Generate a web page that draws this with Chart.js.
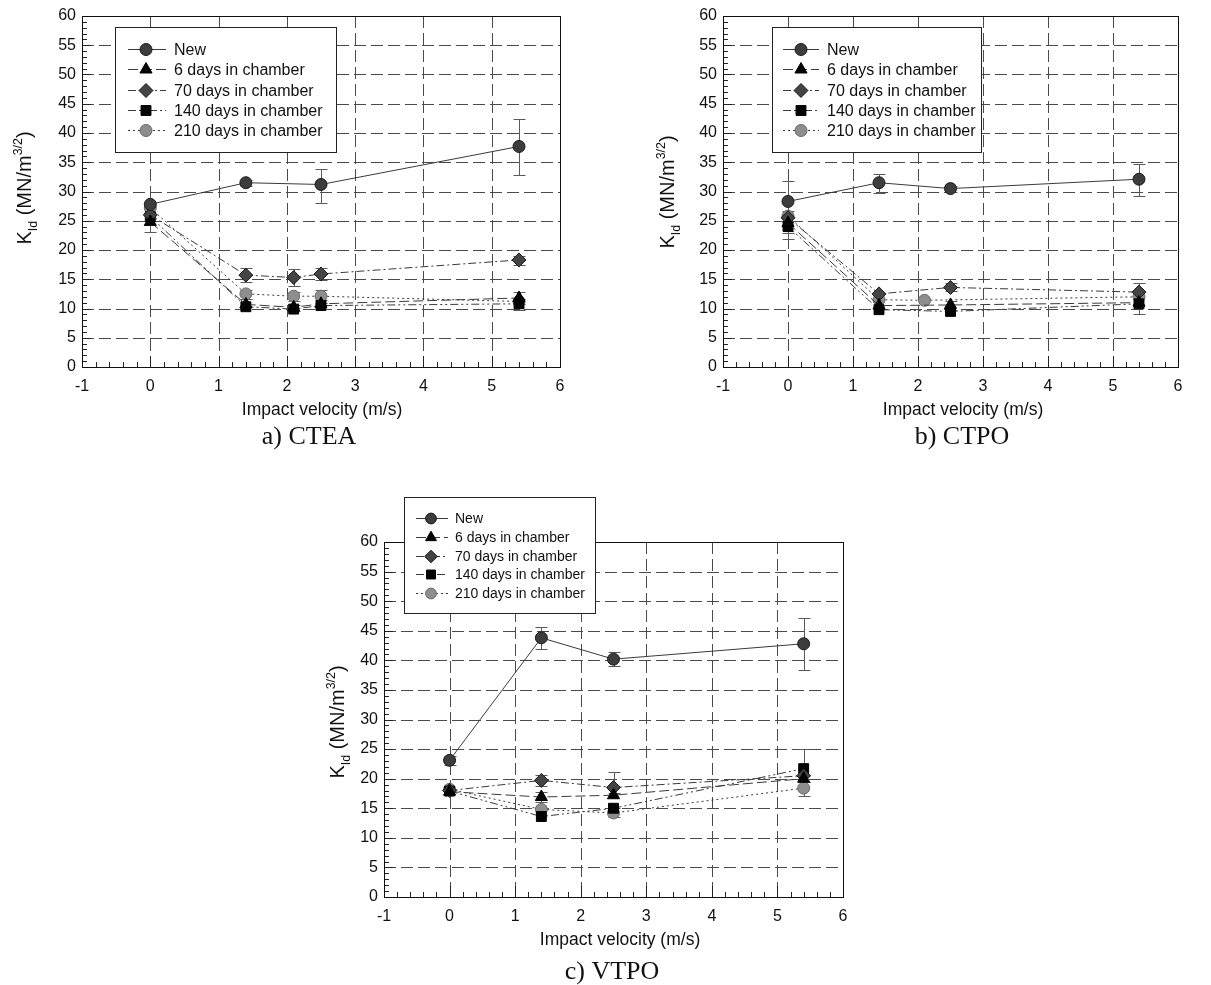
<!DOCTYPE html>
<html><head><meta charset="utf-8">
<script src="https://cdn.jsdelivr.net/npm/chart.js@4.4.0/dist/chart.umd.min.js"></script>
<style>
html,body{margin:0;padding:0;background:#fff}
body{width:1211px;height:985px;overflow:hidden;position:relative}
canvas{position:absolute}
</style></head><body>
<canvas id="ca" width="605" height="460" style="left:0;top:0"></canvas>
<canvas id="cb" width="571" height="460" style="left:640px;top:0"></canvas>
<canvas id="cc" width="600" height="505" style="left:300px;top:480px"></canvas>
<script>
// ---------- data ----------
const seriesLabels = ['New', '6 days in chamber', '70 days in chamber', '140 days in chamber', '210 days in chamber'];
const captions = ['a) CTEA', 'b) CTPO', 'c) VTPO'];
const xTitle = 'Impact velocity (m/s)';
const xTicks = [-1, 0, 1, 2, 3, 4, 5, 6];
const yTicks = [0, 5, 10, 15, 20, 25, 30, 35, 40, 45, 50, 55, 60];

// a) CTEA
const cteaX = [0, 1.4, 2.1, 2.5, 5.4];
const cteaNew = [27.8, 31.5, null, 31.2, 37.7];
const ctea6 = [24.8, 10.7, 10.2, 10.8, 11.8];
const ctea70 = [26.0, 15.7, 15.3, 15.9, 18.3];
const ctea140 = [25.7, 10.3, 9.9, 10.5, 10.8];
const ctea210 = [27.2, 12.5, 12.1, 12.1, 11.2];
const cteaErrNew = [null, [31.0, 32.0], null, [28.1, 33.9], [32.9, 42.4]];
const cteaErr6 = [[23.1, 26.2], null, null, [10.0, 11.4], [10.8, 12.9]];
const cteaErr70 = [null, [14.5, 16.9], [13.8, 16.8], [14.9, 16.9], [17.4, 19.0]];
const cteaErr140 = [null, null, [9.5, 10.6], null, [9.7, 11.6]];
const cteaErr210 = [null, [11.6, 13.2], [11.2, 12.8], [11.0, 13.1], null];

// b) CTPO
const ctpoX = [0, 1.4, 2.1, 2.5, 5.4];
const ctpoNew = [28.3, 31.5, null, 30.5, 32.1];
const ctpo6 = [24.6, 10.5, null, 10.6, 11.0];
const ctpo70 = [25.5, 12.5, null, 13.6, 12.8];
const ctpo140 = [24.0, 9.8, null, 9.5, 10.8];
const ctpo210 = [25.8, 11.5, 11.4, null, 12.0];
const ctpoErrNew = [[25.0, 31.8], [29.8, 33.0], null, [30.0, 31.0], [29.3, 34.7]];
const ctpoErr6 = [null, null, null, [9.8, 11.2], [9.1, 14.3]];
const ctpoErr70 = [[22.9, 26.6], null, null, [13.0, 14.3], null];
const ctpoErr140 = [[21.8, 25.0], null, null, null, null];
const ctpoErr210 = [null, null, null, null, null];

// c) VTPO
const vtpoX = [0, 1.4, 2.5, 5.4];
const vtpoNew = [23.1, 43.8, 40.2, 42.8];
const vtpo6 = [17.8, 16.9, 17.2, 20.0];
const vtpo70 = [18.0, 19.7, 18.5, 20.5];
const vtpo140 = [17.9, 13.6, 15.0, 21.7];
const vtpo210 = [18.2, 14.8, 14.2, 18.4];
const vtpoErrNew = [[22.3, 23.8], [41.9, 45.7], [39.1, 41.4], [38.4, 47.2]];
const vtpoErr6 = [null, [16.0, 17.7], null, null];
const vtpoErr70 = [null, [18.8, 20.7], [17.5, 21.1], null];
const vtpoErr140 = [null, null, null, [19.5, 25.0]];
const vtpoErr210 = [null, null, [13.6, 15.0], [17.0, 19.5]];

// ---------- styling ----------
const SANS = '"Liberation Sans", Arial, Helvetica, sans-serif';
const SERIF = '"Liberation Serif", "Times New Roman", serif';
Chart.defaults.font.family = SANS;
const styles = [
  { ps: 'circle',   r: 6, bg: '#3d3d3d', bc: '#1a1a1a', dash: [] },
  { ps: 'triangle', r: 7, bg: '#050505', bc: '#000',    dash: [10, 4] },
  { ps: 'rectRot',  r: 7, bg: '#444444', bc: '#1a1a1a', dash: [8, 3, 2, 3] },
  { ps: 'rect',     r: 7, bg: '#050505', bc: '#000',    dash: [8, 3, 2, 3, 2, 3] },
  { ps: 'circle',   r: 6, bg: '#8e8e8e', bc: '#6a6a6a', dash: [2, 3] }
];

function hline(ctx, x0, x1, y) { ctx.beginPath(); ctx.moveTo(x0, y); ctx.lineTo(x1, y); ctx.stroke(); }
function vline(ctx, x, y0, y1) { ctx.beginPath(); ctx.moveTo(x, y0); ctx.lineTo(x, y1); ctx.stroke(); }

function drawYTitle(ctx, cx, cy, fs) {
  const parts = [['K', fs, 0], ['Id', fs * 0.62, fs * 0.28], [' (MN/m', fs, 0], ['3/2', fs * 0.62, -fs * 0.45], [')', fs, 0]];
  ctx.save();
  ctx.translate(cx, cy); ctx.rotate(-Math.PI / 2);
  ctx.fillStyle = '#111'; ctx.textBaseline = 'alphabetic'; ctx.textAlign = 'left';
  let total = 0;
  parts.forEach(p => { ctx.font = p[1] + 'px ' + SANS; total += ctx.measureText(p[0]).width; });
  let x = -total / 2;
  parts.forEach(p => { ctx.font = p[1] + 'px ' + SANS; ctx.fillText(p[0], x, fs * 0.36 + p[2]); x += ctx.measureText(p[0]).width; });
  ctx.restore();
}

const deco = {
  id: 'deco',
  beforeDatasetsDraw(chart) {
    const g = chart.options.plugins.deco;
    const { ctx, chartArea: a, scales: { x, y } } = chart;
    ctx.save();
    // dashed grid
    ctx.strokeStyle = '#4a4a4a'; ctx.lineWidth = 1; ctx.setLineDash([12, 5]);
    yTicks.slice(1, -1).forEach(v => hline(ctx, a.left, a.right, Math.round(y.getPixelForValue(v)) + 0.5));
    xTicks.slice(1, -1).forEach(v => vline(ctx, Math.round(x.getPixelForValue(v)) + 0.5, a.top, a.bottom));
    ctx.setLineDash([]);
    // minor ticks
    ctx.strokeStyle = '#222';
    for (let v = 1; v < 60; v++) {
      const py = Math.round(y.getPixelForValue(v)) + 0.5;
      hline(ctx, a.left, a.left + (v % 5 === 0 ? 9 : 5), py);
    }
    for (let k = -4; k < 30; k++) {
      const v = k / 5; const px = Math.round(x.getPixelForValue(v)) + 0.5;
      vline(ctx, px, a.bottom, a.bottom - (k % 5 === 0 ? 11 : 5));
    }
    // error bars
    ctx.strokeStyle = '#5a5a5a';
    g.errors.forEach(errs => errs.forEach((e, i) => {
      if (!e) return;
      const px = Math.round(x.getPixelForValue(g.xs[i])) + 0.5;
      const p0 = Math.round(y.getPixelForValue(e[0])) + 0.5, p1 = Math.round(y.getPixelForValue(e[1])) + 0.5;
      vline(ctx, px, p0, p1); hline(ctx, px - 6, px + 6, p0); hline(ctx, px - 6, px + 6, p1);
    }));
    ctx.restore();
  },
  afterDatasetsDraw(chart) {
    const { ctx, chartArea: a } = chart;
    ctx.save(); ctx.strokeStyle = '#111'; ctx.lineWidth = 1;
    ctx.strokeRect(Math.round(a.left) + 0.5, Math.round(a.top) + 0.5, Math.round(a.right - a.left), Math.round(a.bottom - a.top));
    ctx.restore();
  },
  afterDraw(chart) {
    const g = chart.options.plugins.deco;
    const { ctx } = chart;
    const L = g.legend;
    ctx.save();
    ctx.fillStyle = '#fff'; ctx.fillRect(L.x, L.y, L.w, L.h);
    ctx.strokeStyle = '#222'; ctx.lineWidth = 1; ctx.strokeRect(L.x + 0.5, L.y + 0.5, L.w, L.h);
    chart.data.datasets.forEach((ds, i) => {
      const ry = Math.round(L.row0 + i * L.dy) + 0.5;
      ctx.strokeStyle = ds.borderColor; ctx.lineWidth = 1; ctx.setLineDash(ds.borderDash);
      hline(ctx, L.lx0, L.lx1, ry);
      ctx.setLineDash([]);
      ctx.fillStyle = ds.pointBackgroundColor; ctx.strokeStyle = ds.pointBorderColor;
      Chart.helpers.drawPoint(ctx, { pointStyle: ds.pointStyle, radius: ds.pointRadius * L.ms, rotation: 0, borderWidth: 1 }, L.mx, ry);
      ctx.fillStyle = '#111'; ctx.font = L.fs + 'px ' + SANS; ctx.textBaseline = 'middle'; ctx.textAlign = 'left';
      ctx.fillText(ds.label, L.tx, ry + 1);
    });
    // titles
    ctx.fillStyle = '#111'; ctx.textAlign = 'center'; ctx.textBaseline = 'middle';
    ctx.font = '17.5px ' + SANS; ctx.fillText(xTitle, g.xt[0], g.xt[1]);
    ctx.font = '26px ' + SERIF; ctx.fillText(g.caption, g.cap[0], g.cap[1]);
    drawYTitle(ctx, g.yt[0], g.yt[1], 20);
    ctx.restore();
  }
};

function makeChart(id, xs, series, errors, caption, geo) {
  const datasets = series.map((vals, i) => {
    const s = styles[i];
    return {
      label: seriesLabels[i],
      data: xs.map((x, j) => ({ x, y: vals[j] })).filter(p => p.y !== null),
      showLine: true, borderColor: '#3a3a3a', borderWidth: 1, borderDash: s.dash,
      pointStyle: s.ps, pointRadius: s.r, pointHoverRadius: s.r,
      pointBackgroundColor: s.bg, pointBorderColor: s.bc, pointBorderWidth: 1
    };
  });
  new Chart(document.getElementById(id), {
    type: 'scatter',
    data: { datasets },
    plugins: [deco],
    options: {
      responsive: false, animation: false, events: [],
      layout: { padding: { left: 0, top: geo.padTop, right: geo.padRight, bottom: 0 } },
      plugins: {
        legend: { display: false }, tooltip: { enabled: false },
        deco: { xs, errors, caption, legend: geo.legend, xt: geo.xt, yt: geo.yt, cap: geo.cap }
      },
      scales: {
        x: {
          type: 'linear', min: xTicks[0], max: xTicks[xTicks.length - 1],
          afterBuildTicks: sc => { sc.ticks = xTicks.map(v => ({ value: v })); },
          afterFit: sc => { sc.height = geo.xH; },
          grid: { display: false, drawTicks: false }, border: { display: false },
          ticks: { color: '#111', font: { size: 16 }, padding: 10, maxRotation: 0, autoSkip: false }
        },
        y: {
          type: 'linear', min: yTicks[0], max: yTicks[yTicks.length - 1],
          afterBuildTicks: sc => { sc.ticks = yTicks.map(v => ({ value: v })); },
          afterFit: sc => { sc.width = geo.yW; },
          grid: { display: false, drawTicks: false }, border: { display: false },
          ticks: { color: '#111', font: { size: 16 }, padding: 6, autoSkip: false }
        }
      }
    }
  });
}

makeChart('ca', cteaX, [cteaNew, ctea6, ctea70, ctea140, ctea210],
  [cteaErrNew, cteaErr6, cteaErr70, cteaErr140, cteaErr210], captions[0], {
    yW: 82, xH: 93, padTop: 16, padRight: 45,
    legend: { x: 115, y: 27, w: 221, h: 125, row0: 49, dy: 20.3, lx0: 128, lx1: 166, mx: 146, tx: 174, fs: 16, ms: 1 },
    xt: [322, 410], yt: [24, 188], cap: [309, 437]
  });
makeChart('cb', ctpoX, [ctpoNew, ctpo6, ctpo70, ctpo140, ctpo210],
  [ctpoErrNew, ctpoErr6, ctpoErr70, ctpoErr140, ctpoErr210], captions[1], {
    yW: 83, xH: 93, padTop: 16, padRight: 33,
    legend: { x: 132, y: 27, w: 209, h: 125, row0: 49, dy: 20.3, lx0: 143, lx1: 179, mx: 161, tx: 187, fs: 16, ms: 1 },
    xt: [323, 410], yt: [27, 192], cap: [322, 437]
  });
makeChart('cc', vtpoX, [vtpoNew, vtpo6, vtpo70, vtpo140, vtpo210],
  [vtpoErrNew, vtpoErr6, vtpoErr70, vtpoErr140, vtpoErr210], captions[2], {
    yW: 84, xH: 88, padTop: 62, padRight: 57,
    legend: { x: 104, y: 17, w: 191, h: 116, row0: 38.3, dy: 18.6, lx0: 116, lx1: 148, mx: 131, tx: 155, fs: 14, ms: 0.9 },
    xt: [320, 460], yt: [37, 242], cap: [312, 492]
  });
</script>
</body></html>
